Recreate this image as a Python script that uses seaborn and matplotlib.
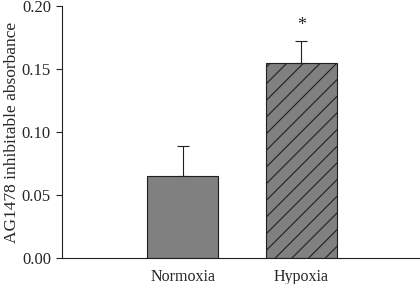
import matplotlib
matplotlib.use("Agg")
import matplotlib.pyplot as plt
import seaborn as sns
import pandas as pd

# data
conditions = ["Normoxia", "Hypoxia"]
absorbance = [0.065, 0.155]
sem = [0.024, 0.017]
hatches = ["", "//"]

sns.set_style("ticks")
plt.rcParams["font.family"] = ["Liberation Serif", "DejaVu Serif"]
plt.rcParams["hatch.linewidth"] = 0.8

df = pd.DataFrame({"condition": conditions, "value": absorbance})

fig = plt.figure(figsize=(4.2, 2.84), dpi=100)
ax = fig.add_axes([62 / 420, 26 / 284, 358 / 420, 252 / 284])

sns.barplot(data=df, x="condition", y="value", color="#808080", width=0.6,
            saturation=1, edgecolor="#202020", linewidth=0.8, errorbar=None, ax=ax)
for bar, h in zip(ax.patches, hatches):
    bar.set_hatch(h)

ax.errorbar(range(len(conditions)), absorbance, yerr=[[0] * len(sem), sem],
            fmt="none", ecolor="#202020", elinewidth=0.8, capsize=4, capthick=0.8)
ax.text(1, absorbance[1] + sem[1] + 0.006, "*", ha="center", va="bottom", fontsize=13)

ax.set_xlim(-1.02, 2.0)
ax.set_ylim(0, 0.2)
ax.set_yticks([0.0, 0.05, 0.10, 0.15, 0.20])
ax.set_yticklabels(["0.00", "0.05", "0.10", "0.15", "0.20"], fontsize=12)
ax.set_xticklabels(conditions, fontsize=11.5)
ax.tick_params(axis="x", length=0, pad=8)
ax.tick_params(axis="y", length=4, width=0.8, direction="out", pad=4)
ax.set_xlabel("")
ax.set_ylabel("AG1478 inhibitable absorbance", fontsize=12.5, labelpad=1)
sns.despine(ax=ax)
for s in ["left", "bottom"]:
    ax.spines[s].set_linewidth(0.8)
    ax.spines[s].set_color("#202020")

fig.savefig("out.png", dpi=100)
